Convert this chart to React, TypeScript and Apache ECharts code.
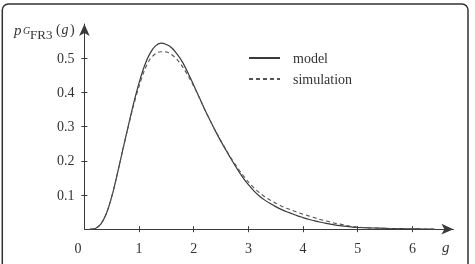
import React, { useEffect, useRef } from 'react';
import * as echarts from 'echarts';

const gValues = [0.1, 0.2, 0.3, 0.4, 0.5, 0.6, 0.7, 0.8, 0.9, 1.0, 1.1, 1.2, 1.3, 1.4, 1.5, 1.6, 1.7, 1.8, 1.9, 2.0, 2.1, 2.2, 2.3, 2.4, 2.5, 2.6, 2.7, 2.8, 2.9, 3.0, 3.1, 3.2, 3.3, 3.4, 3.5, 3.6, 3.7, 3.8, 3.9, 4.0, 4.1, 4.2, 4.3, 4.4, 4.5, 4.6, 4.7, 4.8, 4.9, 5.0, 5.2, 5.4, 5.6, 5.8, 6.0, 6.2, 6.4];
const modelValues = [0, 0.002, 0.015, 0.045, 0.095, 0.16, 0.231, 0.3, 0.368, 0.428, 0.478, 0.514, 0.536, 0.544, 0.54, 0.53, 0.511, 0.487, 0.455, 0.421, 0.386, 0.351, 0.318, 0.286, 0.256, 0.228, 0.201, 0.175, 0.151, 0.13, 0.112, 0.097, 0.085, 0.075, 0.066, 0.058, 0.051, 0.045, 0.039, 0.034, 0.029, 0.025, 0.021, 0.018, 0.015, 0.012, 0.01, 0.008, 0.006, 0.005, 0.004, 0.003, 0.002, 0.0015, 0.001, 0.0005, 0];
const simulationValues = [0, 0.002, 0.015, 0.045, 0.095, 0.16, 0.23, 0.298, 0.362, 0.418, 0.465, 0.497, 0.513, 0.519, 0.518, 0.51, 0.495, 0.474, 0.448, 0.418, 0.385, 0.35, 0.318, 0.287, 0.258, 0.23, 0.204, 0.18, 0.158, 0.138, 0.121, 0.107, 0.095, 0.085, 0.076, 0.068, 0.061, 0.055, 0.049, 0.044, 0.039, 0.034, 0.029, 0.025, 0.021, 0.017, 0.014, 0.011, 0.008, 0.006, 0.004, 0.003, 0.002, 0.0015, 0.001, 0.0008, 0];
const seriesNames = ['model', 'simulation'];
const xTickValues = [1, 2, 3, 4, 5, 6];
const xLabelValues = [0, 1, 2, 3, 4, 5, 6];
const yTickValues = [0.1, 0.2, 0.3, 0.4, 0.5];

const FONT = '"Liberation Serif", "DejaVu Serif", serif';
const INK = '#3a3a3a';
const TEXT = '#333';

export default function App() {
  const ref = useRef<HTMLDivElement>(null);
  useEffect(() => {
    if (!ref.current) return;
    const chart = echarts.init(ref.current, null, { renderer: 'svg' });
    const baseX = { type: 'value', min: 0, max: 6.75, position: 'bottom', splitLine: { show: false } };
    const baseY = { type: 'value', min: 0, max: 0.6, position: 'left', splitLine: { show: false } };
    chart.setOption({
      animation: false,
      grid: { left: 84.4, right: 21.6, top: 24, bottom: 34.8, containLabel: false },
      legend: {
        orient: 'vertical',
        left: 243,
        top: 46,
        itemWidth: 31,
        itemHeight: 14,
        itemGap: 7,
        data: seriesNames,
        itemStyle: { opacity: 0 },
        textStyle: { fontFamily: FONT, fontSize: 14, color: TEXT, padding: [0, 0, 0, 8] },
      },
      xAxis: [
        {
          ...baseX,
          axisLine: { show: true, symbol: ['none', 'arrow'], symbolSize: [8, 12], lineStyle: { color: INK, width: 1 } },
          axisTick: { show: true, customValues: xTickValues, length: 3, lineStyle: { color: INK } },
          axisLabel: {
            customValues: xLabelValues,
            margin: 12,
            color: TEXT,
            fontFamily: FONT,
            fontSize: 14,
            formatter: (v: number) => (v === 0 ? '{z|0}' : String(v)),
            rich: { z: { padding: [0, 13, 0, 0], fontFamily: FONT, fontSize: 14, color: TEXT } },
          },
        },
        {
          ...baseX,
          axisLine: { show: false },
          axisTick: { show: true, inside: true, customValues: xTickValues, length: 3, lineStyle: { color: INK } },
          axisLabel: { show: false },
        },
      ],
      yAxis: [
        {
          ...baseY,
          axisLine: { show: true, symbol: ['none', 'arrow'], symbolSize: [8, 12], lineStyle: { color: INK, width: 1 } },
          axisTick: { show: true, customValues: yTickValues, length: 3, lineStyle: { color: INK } },
          axisLabel: {
            customValues: yTickValues,
            margin: 10,
            color: TEXT,
            fontFamily: FONT,
            fontSize: 14,
            formatter: (v: number) => v.toFixed(1),
          },
        },
        {
          ...baseY,
          axisLine: { show: false },
          axisTick: { show: true, inside: true, customValues: yTickValues, length: 3, lineStyle: { color: INK } },
          axisLabel: { show: false },
        },
      ],
      series: [
        {
          name: seriesNames[0],
          type: 'line',
          xAxisIndex: 0,
          yAxisIndex: 0,
          symbol: 'none',
          smooth: 0.3,
          data: gValues.map((g, i) => [g, modelValues[i]]),
          lineStyle: { color: INK, width: 1.2, type: 'solid' },
          itemStyle: { color: INK },
        },
        {
          name: seriesNames[1],
          type: 'line',
          xAxisIndex: 0,
          yAxisIndex: 0,
          symbol: 'none',
          smooth: 0.3,
          data: gValues.map((g, i) => [g, simulationValues[i]]),
          lineStyle: { color: '#555', width: 1.1, type: [4, 3] },
          itemStyle: { color: '#555' },
        },
      ],
      graphic: [
        {
          type: 'rect',
          shape: { x: 2.3, y: 4, width: 465.7, height: 290, r: 6 },
          style: { fill: 'none', stroke: '#333', lineWidth: 1.5 },
          silent: true,
        },
        { type: 'text', x: 14, y: 22, style: { text: 'p', font: `italic 15px ${FONT}`, fill: TEXT } },
        { type: 'text', x: 23, y: 25.5, style: { text: 'G', font: `italic 10px ${FONT}`, fill: TEXT } },
        { type: 'text', x: 30, y: 28, style: { text: 'FR3', font: `13px ${FONT}`, fill: TEXT } },
        { type: 'text', x: 56, y: 22, style: { text: '(', font: `14px ${FONT}`, fill: TEXT } },
        { type: 'text', x: 61.5, y: 22, style: { text: 'g', font: `italic 14px ${FONT}`, fill: TEXT } },
        { type: 'text', x: 70, y: 22, style: { text: ')', font: `14px ${FONT}`, fill: TEXT } },
        { type: 'text', x: 442, y: 239, style: { text: 'g', font: `italic 15px ${FONT}`, fill: TEXT } },
      ],
    });
    return () => chart.dispose();
  }, []);
  return <div ref={ref} style={{ position: 'fixed', left: 0, top: 0, width: 475, height: 264 }} />;
}
